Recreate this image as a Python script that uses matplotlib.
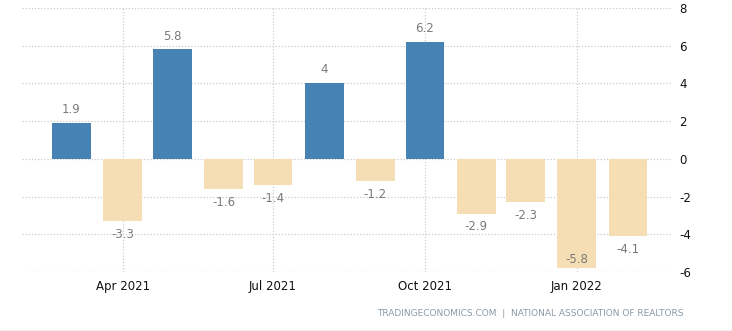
import matplotlib
matplotlib.use("Agg")
import matplotlib.pyplot as plt
from matplotlib.lines import Line2D
import pandas as pd

plt.rcParams["axes.unicode_minus"] = False

months = pd.date_range("2021-03-01", "2022-02-01", freq="MS")
values = [1.9, -3.3, 5.8, -1.6, -1.4, 4.0, -1.2, 6.2, -2.9, -2.3, -5.8, -4.1]
tick_dates = pd.to_datetime(["2021-04-01", "2021-07-01", "2021-10-01", "2022-01-01"])
tick_labels = ["Apr 2021", "Jul 2021", "Oct 2021", "Jan 2022"]
yticks = [-6, -4, -2, 0, 2, 4, 6, 8]
source = "TRADINGECONOMICS.COM  |  NATIONAL ASSOCIATION OF REALTORS"

POS = "#4682B4"
NEG = "#F5DEB3"
YMIN, YMAX = -6, 8

fig = plt.figure(figsize=(7.32, 3.31), dpi=100)
ax = fig.add_axes([22 / 732, 59 / 331, 649 / 732, 264 / 331])

colors = [POS if v >= 0 else NEG for v in values]
ax.bar(months, values, width=23.5, color=colors, zorder=3)

for d, v in zip(months, values):
    lab = f"{v:g}"
    if v >= 0:
        ax.annotate(lab, (d, v), xytext=(0, 5), textcoords="offset points",
                    ha="center", va="bottom", fontsize=8.5, color="#7a7a7a", zorder=4)
    elif v < YMIN + 1:
        # no room below -> put it inside the bar
        ax.annotate(lab, (d, v), xytext=(0, 6.5), textcoords="offset points",
                    ha="center", va="center", fontsize=8.5, color="#7a7a7a", zorder=4)
    else:
        ax.annotate(lab, (d, v), xytext=(0, -5), textcoords="offset points",
                    ha="center", va="top", fontsize=8.5, color="#7a7a7a", zorder=4)

ax.set_xlim(pd.Timestamp("2021-01-30"), pd.Timestamp("2022-02-27"))
ax.set_ylim(YMIN, YMAX)
ax.set_xticks(tick_dates)
ax.set_xticklabels(tick_labels)
ax.set_yticks(yticks)
ax.yaxis.tick_right()
ax.tick_params(axis="both", length=0, labelsize=8.5, colors="#111111")
ax.tick_params(axis="y", pad=6)
ax.tick_params(axis="x", pad=6)
for s in ax.spines.values():
    s.set_visible(False)
ax.grid(True, color="#cccccc", linestyle=(0, (1, 1.5)), linewidth=0.9, zorder=0)

fig.text(684 / 732, 1 - 314 / 331, source, ha="right", va="center",
         fontsize=6.5, color="#8a9aa8")
fig.add_artist(Line2D([0, 1], [1.5 / 331, 1.5 / 331], transform=fig.transFigure,
                      color="#eeeeee", linewidth=1))

fig.savefig("out.png", dpi=100)
